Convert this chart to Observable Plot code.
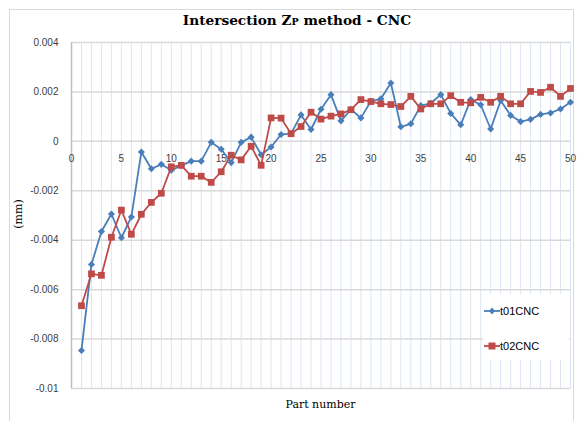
<!DOCTYPE html>
<html>
<head>
<meta charset="utf-8">
<script src="https://cdn.jsdelivr.net/npm/d3@7"></script>
<script src="https://cdn.jsdelivr.net/npm/@observablehq/plot@0.6"></script>
<style>
  html, body { margin: 0; padding: 0; background: #fff; }
  #wrap { position: relative; width: 583px; height: 421px; overflow: hidden; background: #fff; }
  #border { position: absolute; left: 9px; top: 9px; width: 565px; height: 430px; border: 1px solid #d9d9d9; box-sizing: border-box; }
  #title { position: absolute; left: 0; top: 12px; width: 583px; padding-left: 11px; box-sizing: border-box; text-align: center;
           font-family: "DejaVu Serif", serif; font-weight: bold; font-size: 13.7px; color: #000; }
  #title .sc { font-size: 9.5px; }
  #chart { position: absolute; left: 0; top: 0; }
  #ylab { position: absolute; left: 18px; top: 214px; transform: translate(-50%, -50%) rotate(-90deg);
          font-family: "DejaVu Serif", serif; font-size: 11px; color: #000; white-space: nowrap; }
  #xlab { position: absolute; left: 0; top: 398px; width: 583px; padding-left: 58px; box-sizing: border-box; text-align: center;
          font-family: "DejaVu Serif", serif; font-size: 11px; color: #000; }
  #legend { position: absolute; left: 483px; top: 294px; width: 86px; height: 66px; background: #fff;
            font-family: "Liberation Sans", sans-serif; font-size: 11px; color: #000; }
  #legend .row { position: absolute; left: 0; height: 14px; line-height: 14px; }
</style>
</head>
<body>
<div id="wrap">
  <div id="border"></div>
  <div id="chart"></div>
  <div id="title">Intersection Z<span class="sc">P</span> method - CNC</div>
  <div id="ylab">(mm)</div>
  <div id="xlab">Part number</div>
  <div id="legend"></div>
</div>
<script>
const parts = d3.range(1, 51);
const seriesNames = ["t01CNC", "t02CNC"];
const t01CNC = [
  -0.00846, -0.00498, -0.00365, -0.00294, -0.0039, -0.00306, -0.00043, -0.00111, -0.00093, -0.00117,
  -0.00098, -0.0008, -0.0008, -0.00004, -0.00032, -0.00086, -0.00004, 0.00017, -0.00054, -0.00023,
  0.00028, 0.00031, 0.00107, 0.00048, 0.0013, 0.00189, 0.00083, 0.00129, 0.00095, 0.00162,
  0.00172, 0.00236, 0.00059, 0.00071, 0.00145, 0.00154, 0.00189, 0.00113, 0.00067, 0.00169,
  0.00148, 0.0005, 0.00165, 0.00105, 0.0008, 0.00089, 0.00109, 0.00115, 0.00131, 0.00158
];
const t02CNC = [
  -0.00665, -0.00536, -0.00542, -0.00388, -0.00278, -0.00376, -0.00295, -0.00247, -0.0021, -0.00103,
  -0.00097, -0.00141, -0.00141, -0.00166, -0.00123, -0.00056, -0.00075, -0.0002, -0.00097, 0.00095,
  0.00094, 0.00031, 0.0006, 0.00118, 0.0009, 0.00102, 0.00111, 0.00128, 0.00169, 0.00161,
  0.00152, 0.00149, 0.00141, 0.00182, 0.00131, 0.00152, 0.00152, 0.00185, 0.00158, 0.00156,
  0.00178, 0.00158, 0.00182, 0.00152, 0.00152, 0.00202, 0.00198, 0.00219, 0.00182, 0.00214
];
const yTicks = [0.004, 0.002, 0, -0.002, -0.004, -0.006, -0.008, -0.01];
const xTicks = [0, 5, 10, 15, 20, 25, 30, 35, 40, 45, 50];
const xGrid = d3.range(0, 51);

const colors = { t01CNC: "#4a7ebb", t02CNC: "#be4b48" };
const d1 = parts.map((p, i) => ({ part: p, value: t01CNC[i] }));
const d2 = parts.map((p, i) => ({ part: p, value: t02CNC[i] }));

const fmt = d => d === 0 ? "0" : String(+d.toFixed(3));

const chart = Plot.plot({
  width: 583,
  height: 421,
  marginLeft: 71,
  marginRight: 13,
  marginTop: 42,
  marginBottom: 33,
  style: { background: "transparent", fontFamily: "Liberation Sans, sans-serif" },
  x: { domain: [0, 50], axis: null },
  y: { domain: [-0.01, 0.004], axis: null },
  marks: [
    Plot.ruleX(xGrid, { stroke: "#dce6f2", strokeWidth: 1 }),
    Plot.ruleY(yTicks, { stroke: "#d9d9d9", strokeWidth: 1.5 }),
    Plot.ruleX([0], { stroke: "#bfbfbf", strokeWidth: 1.5 }),
    Plot.axisY({ ticks: yTicks, tickSize: 0, tickPadding: 13, tickFormat: fmt, fontSize: 10, color: "#404040", label: null }),
    Plot.text(xTicks, { x: d => d, y: () => 0, dy: 17, text: d => String(d), fontSize: 10, fill: "#404040" }),
    Plot.line(d1, { x: "part", y: "value", stroke: colors.t01CNC, strokeWidth: 1.8 }),
    Plot.dot(d1, { x: "part", y: "value", symbol: "diamond2", r: 3.2, fill: colors.t01CNC, stroke: "none" }),
    Plot.line(d2, { x: "part", y: "value", stroke: colors.t02CNC, strokeWidth: 1.8 }),
    Plot.dot(d2, { x: "part", y: "value", symbol: "square", r: 3.8, fill: colors.t02CNC, stroke: "none" })
  ]
});
document.getElementById("chart").appendChild(chart);

// legend
const legend = document.getElementById("legend");
const legendItems = [
  { name: seriesNames[0], color: colors.t01CNC, shape: "diamond", top: 10 },
  { name: seriesNames[1], color: colors.t02CNC, shape: "square", top: 45 }
];
for (const it of legendItems) {
  const row = document.createElement("div");
  row.className = "row";
  row.style.top = it.top + "px";
  const marker = it.shape === "diamond"
    ? `<path d="M8,3.5 L11,7 L8,10.5 L5,7 Z" fill="${it.color}"/>`
    : `<rect x="4.5" y="3.5" width="7" height="7" fill="${it.color}"/>`;
  row.innerHTML = `<svg width="16" height="14" style="position:absolute;left:1px;top:0"><line x1="0" x2="16" y1="7" y2="7" stroke="${it.color}" stroke-width="1.8"/>${marker}</svg><span style="position:absolute;left:17px;top:0">${it.name}</span>`;
  legend.appendChild(row);
}
</script>
</body>
</html>
